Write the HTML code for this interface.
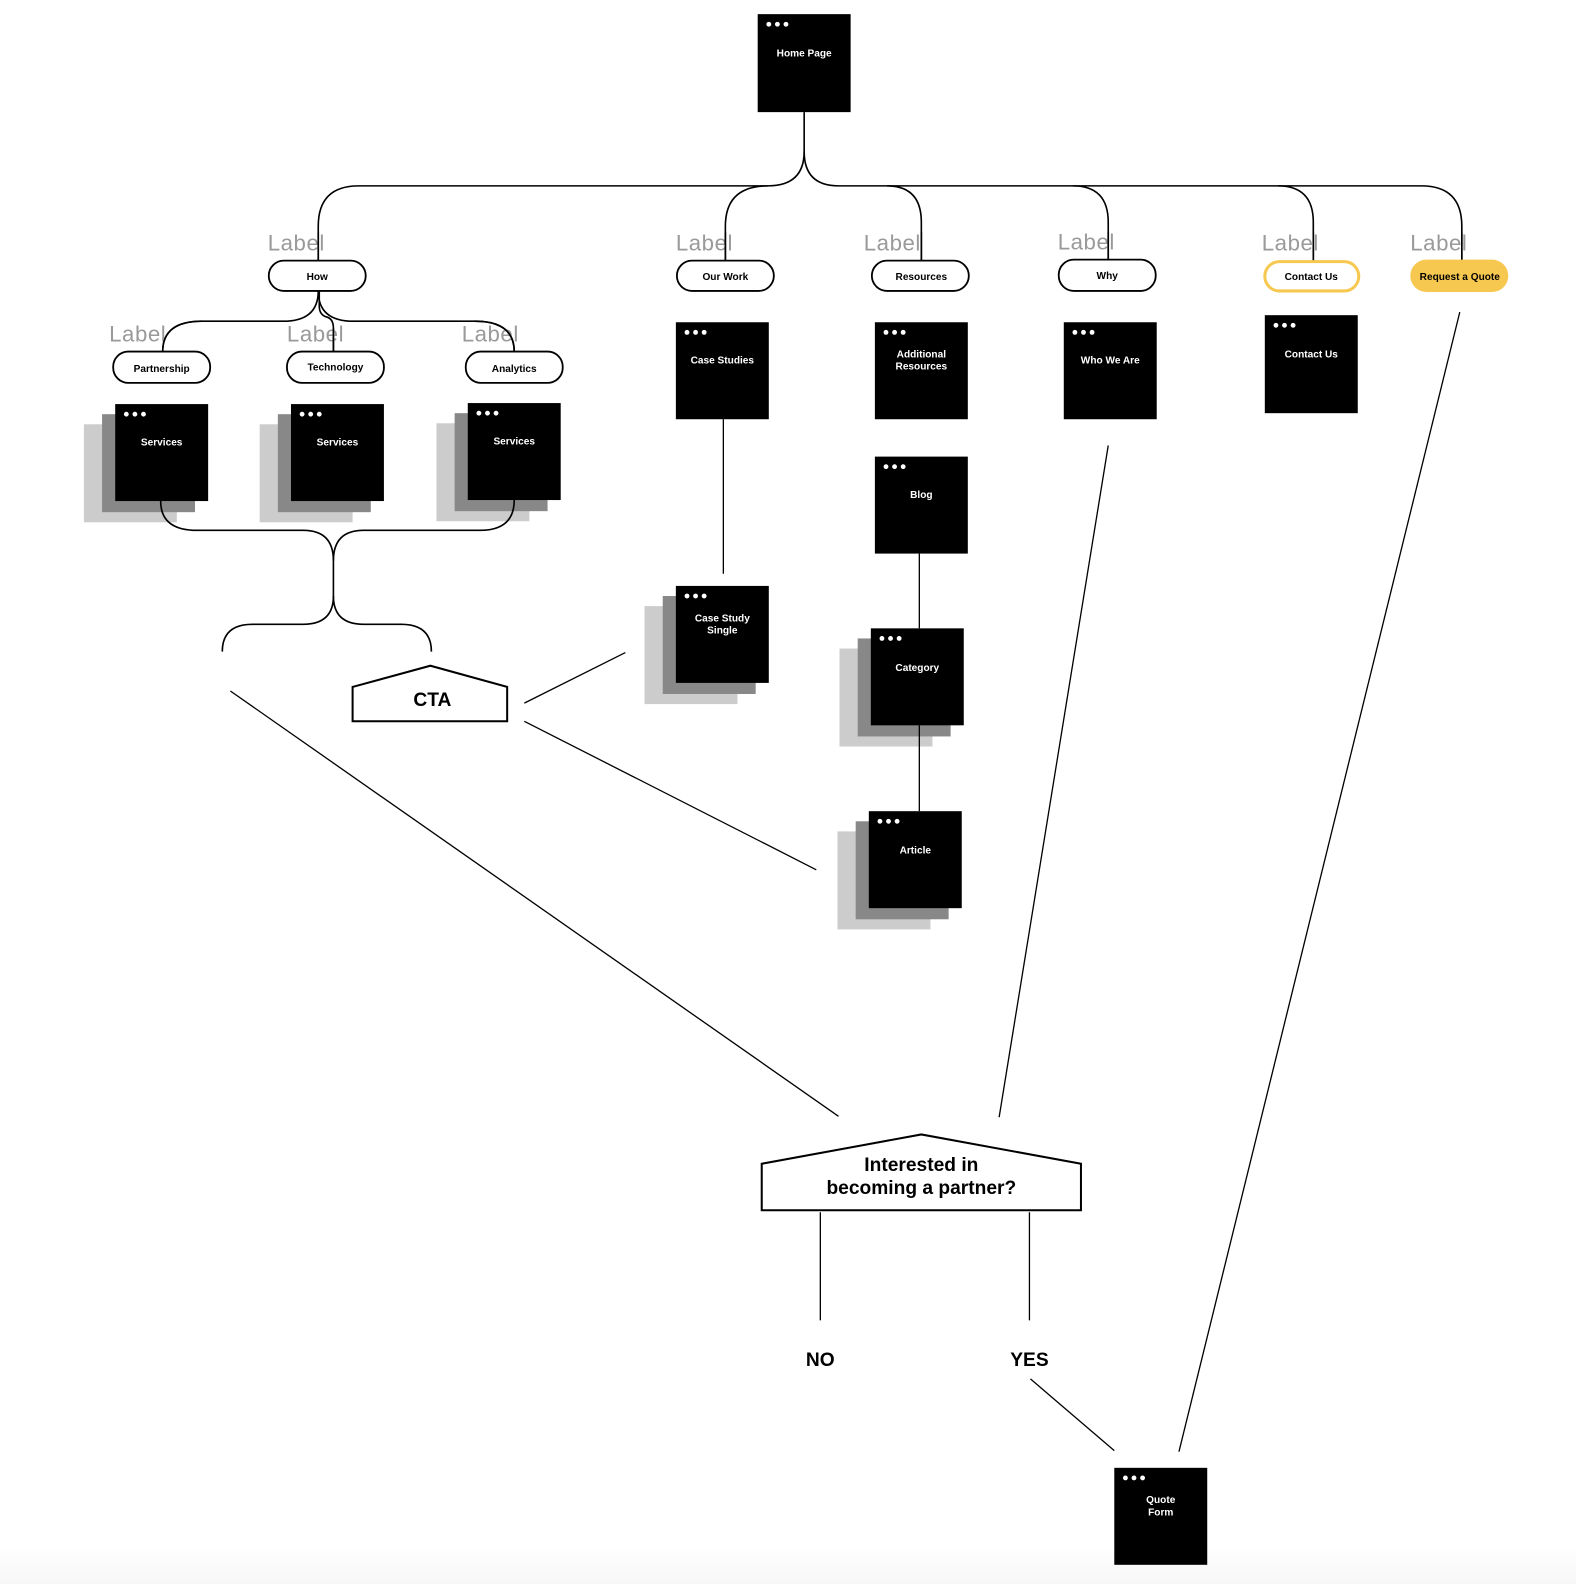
<!DOCTYPE html>
<html><head><meta charset="utf-8"><style>
html,body{margin:0;padding:0;background:#fff;}
svg{display:block;}
text{font-family:"Liberation Sans",sans-serif;}
.n{fill:#fff;font-size:10px;font-weight:bold;text-anchor:middle;}
.p{fill:#000;font-size:10px;font-weight:bold;text-anchor:middle;}
.lb{fill:#9a9a9a;font-size:22px;}
.c{fill:none;stroke:#000;stroke-width:1.6;}
.l{stroke:#000;stroke-width:1.3;}
</style></head><body>
<svg width="1576" height="1584" viewBox="0 0 1560 1568" xmlns="http://www.w3.org/2000/svg">
<defs>
<linearGradient id="bg" x1="0" y1="0" x2="0" y2="1"><stop offset="0" stop-color="#fff"/><stop offset="1" stop-color="#f7f7f7"/></linearGradient>
<g id="dots"><circle cx="11" cy="10" r="2.4" fill="#fff"/><circle cx="19.5" cy="10" r="2.4" fill="#fff"/><circle cx="28" cy="10" r="2.4" fill="#fff"/></g>
</defs>
<rect x="0" y="1530" width="1560" height="38" fill="url(#bg)"/>

<g>
<rect x="83" y="420" width="92" height="97" fill="#cccccc"/><rect x="101" y="410" width="92" height="97" fill="#888"/>
<rect x="257" y="420" width="92" height="97" fill="#cccccc"/><rect x="275" y="410" width="92" height="97" fill="#888"/>
<rect x="432" y="419" width="92" height="97" fill="#cccccc"/><rect x="450" y="409" width="92" height="97" fill="#888"/>
<rect x="638" y="600" width="92" height="97" fill="#cccccc"/><rect x="656" y="590" width="92" height="97" fill="#888"/>
<rect x="831" y="642" width="92" height="97" fill="#cccccc"/><rect x="849" y="632" width="92" height="97" fill="#888"/>
<rect x="829" y="823" width="92" height="97" fill="#cccccc"/><rect x="847" y="813" width="92" height="97" fill="#888"/>
</g>

<path class="c" d="M796 111 V150 Q796 184 760 184 H355 Q315 184 315 224 V258"/>
<path class="c" d="M796 150 Q796 184 830 184 H1407 Q1447 184 1447 224 V258"/>
<path class="c" d="M760 184 Q718 184 718 224 V258"/>
<path class="c" d="M878 184 Q912 184 912 220 V258"/>
<path class="c" d="M1062 184 Q1097 184 1097 220 V257"/>
<path class="c" d="M1265 184 Q1300 184 1300 220 V258"/>
<path class="c" d="M315 288 Q315 318 280 318 H200 Q161 318 161 348"/>
<path class="c" d="M315 288 Q315 318 350 318 H470 Q509 318 509 348"/>
<path class="c" d="M316 288 V303 Q316 312 324 314 Q330 316 330 325 V348"/>
<path class="c" d="M159 496 Q159 525 195 525 H300 Q330 525 330 555 V590"/>
<path class="c" d="M509 495 Q509 525 475 525 H360 Q330 525 330 555"/>
<path class="c" d="M330 590 Q330 618 300 618 H250 Q220 618 220 645"/>
<path class="c" d="M330 590 Q330 618 360 618 H397 Q427 618 427 645"/>

<line class="l" x1="228" y1="684" x2="830" y2="1105"/>
<line class="l" x1="519" y1="696" x2="619" y2="646"/>
<line class="l" x1="519" y1="714" x2="808" y2="861"/>
<line class="l" x1="716" y1="415" x2="716" y2="568"/>
<line class="l" x1="910" y1="548" x2="910" y2="622"/>
<line class="l" x1="910" y1="718" x2="910" y2="803"/>
<line class="l" x1="1097" y1="441" x2="989" y2="1106"/>
<line class="l" x1="1445" y1="309" x2="1167" y2="1437"/>
<line class="l" x1="812" y1="1200" x2="812" y2="1307"/>
<line class="l" x1="1019" y1="1200" x2="1019" y2="1307"/>
<line class="l" x1="1020" y1="1365" x2="1103" y2="1436"/>

<polygon points="349,680 426,659 502,680 502,714 349,714" fill="#fff" stroke="#000" stroke-width="2"/>
<text x="428" y="699" font-size="19" font-weight="bold" text-anchor="middle">CTA</text>
<polygon points="754,1152 912,1123 1070,1152 1070,1198 754,1198" fill="#fff" stroke="#000" stroke-width="2"/>
<text x="912" y="1159" font-size="19" font-weight="bold" text-anchor="middle">Interested in</text>
<text x="912" y="1182" font-size="19" font-weight="bold" text-anchor="middle">becoming a partner?</text>
<text x="812" y="1352" font-size="19" font-weight="bold" text-anchor="middle">NO</text>
<text x="1019" y="1352" font-size="19" font-weight="bold" text-anchor="middle">YES</text>

<text class="lb" x="265" y="248" textLength="56">Label</text>
<text class="lb" x="669" y="248" textLength="56">Label</text>
<text class="lb" x="855" y="248" textLength="56">Label</text>
<text class="lb" x="1047" y="247" textLength="56">Label</text>
<text class="lb" x="1249" y="248" textLength="56">Label</text>
<text class="lb" x="1396" y="248" textLength="56">Label</text>
<text class="lb" x="108" y="338" textLength="56">Label</text>
<text class="lb" x="284" y="338" textLength="56">Label</text>
<text class="lb" x="457" y="338" textLength="56">Label</text>
<path class="c" d="M315 230 V258 M718 230 V258 M912 230 V258 M1097 230 V257 M1300 230 V258 M1447 230 V258 M330 325 V348"/>
<path class="c" d="M200 318 Q161 318 161 348 M470 318 Q509 318 509 348"/>

<g stroke="#000" stroke-width="1.8" fill="#fff">
<rect x="266" y="258" width="96" height="30" rx="15"/>
<rect x="670" y="258" width="96" height="30" rx="15"/>
<rect x="863" y="258" width="96" height="30" rx="15"/>
<rect x="1048" y="257" width="96" height="31" rx="15"/>
<rect x="112" y="348" width="96" height="31" rx="15"/>
<rect x="284" y="348" width="96" height="31" rx="15"/>
<rect x="461" y="348" width="96" height="31" rx="15"/>
</g>
<rect x="1252" y="259" width="93" height="29" rx="14.5" fill="#fff" stroke="#F7C84F" stroke-width="3"/>
<rect x="1396" y="257" width="97" height="32" rx="16" fill="#F7C84F"/>
<text class="p" x="314" y="277">How</text>
<text class="p" x="718" y="277">Our Work</text>
<text class="p" x="912" y="277">Resources</text>
<text class="p" x="1096" y="276">Why</text>
<text class="p" x="1298" y="277">Contact Us</text>
<text class="p" x="1445" y="277">Request a Quote</text>
<text class="p" x="160" y="368">Partnership</text>
<text class="p" x="332" y="367">Technology</text>
<text class="p" x="509" y="368">Analytics</text>

<g>
<rect x="750" y="14" width="92" height="97" fill="#000"/><use href="#dots" x="750" y="14"/><text class="n" x="796" y="56">Home Page</text>
<rect x="114" y="400" width="92" height="96" fill="#000"/><use href="#dots" x="114" y="400"/><text class="n" x="160" y="441">Services</text>
<rect x="288" y="400" width="92" height="96" fill="#000"/><use href="#dots" x="288" y="400"/><text class="n" x="334" y="441">Services</text>
<rect x="463" y="399" width="92" height="96" fill="#000"/><use href="#dots" x="463" y="399"/><text class="n" x="509" y="440">Services</text>
<rect x="669" y="319" width="92" height="96" fill="#000"/><use href="#dots" x="669" y="319"/><text class="n" x="715" y="360">Case Studies</text>
<rect x="866" y="319" width="92" height="96" fill="#000"/><use href="#dots" x="866" y="319"/><text class="n" x="912" y="354">Additional</text><text class="n" x="912" y="366">Resources</text>
<rect x="1053" y="319" width="92" height="96" fill="#000"/><use href="#dots" x="1053" y="319"/><text class="n" x="1099" y="360">Who We Are</text>
<rect x="1252" y="312" width="92" height="97" fill="#000"/><use href="#dots" x="1252" y="312"/><text class="n" x="1298" y="354">Contact Us</text>
<rect x="866" y="452" width="92" height="96" fill="#000"/><use href="#dots" x="866" y="452"/><text class="n" x="912" y="493">Blog</text>
<rect x="669" y="580" width="92" height="96" fill="#000"/><use href="#dots" x="669" y="580"/><text class="n" x="715" y="615">Case Study</text><text class="n" x="715" y="627">Single</text>
<rect x="862" y="622" width="92" height="96" fill="#000"/><use href="#dots" x="862" y="622"/><text class="n" x="908" y="664">Category</text>
<rect x="860" y="803" width="92" height="96" fill="#000"/><use href="#dots" x="860" y="803"/><text class="n" x="906" y="845">Article</text>
<rect x="1103" y="1453" width="92" height="96" fill="#000"/><use href="#dots" x="1103" y="1453"/><text class="n" x="1149" y="1488">Quote</text><text class="n" x="1149" y="1500">Form</text>
</g>
</svg>
</body></html>
